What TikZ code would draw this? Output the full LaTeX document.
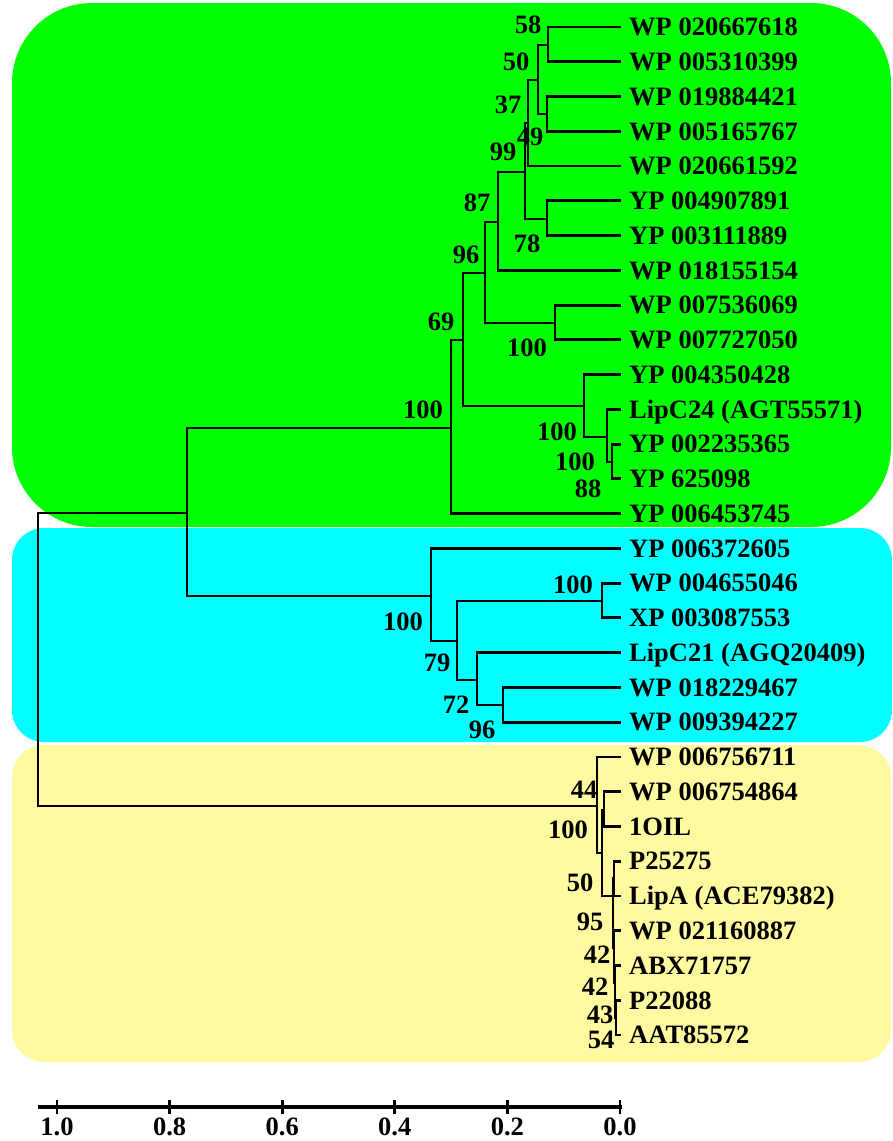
\documentclass[tikz,border=0pt]{standalone}
\usepackage{fontspec}
\setmainfont{Liberation Serif}
\newcommand\lblfont{\fontsize{26.5}{30}\selectfont\bfseries}
\definecolor{cgreen}{RGB}{0,255,0}
\definecolor{ccyan}{RGB}{0,255,255}
\definecolor{cyellow}{RGB}{255,250,160}
\tikzset{
  br/.style={line width=2.9pt},
  leaf/.style={anchor=west, inner sep=0pt, text height=17.5pt, text depth=0pt, font=\lblfont},
  bs/.style={inner sep=0pt, text height=17.5pt, text depth=0pt, font=\lblfont},
  box/.style={rounded corners=#1},
}
\begin{document}
\begin{tikzpicture}[x=1pt,y=-1pt]
\useasboundingbox (0,0) rectangle (892,1141);
% clade backgrounds
\fill[cgreen, box=80pt] (12,3) rectangle (891,527);
\fill[ccyan, box=32pt] (12,528) rectangle (892,742);
\fill[cyellow, box=32pt] (12,745) rectangle (891,1062);

% leaf tips
\coordinate (l1) at (621,27.0);
\coordinate (l2) at (621,61.8);
\coordinate (l3) at (621,96.5);
\coordinate (l4) at (621,131.3);
\coordinate (l5) at (621,166.0);
\coordinate (l6) at (621,200.8);
\coordinate (l7) at (621,235.6);
\coordinate (l8) at (621,270.3);
\coordinate (l9) at (621,305.1);
\coordinate (l10) at (621,339.8);
\coordinate (l11) at (621,374.6);
\coordinate (l12) at (621,409.4);
\coordinate (l13) at (621,444.1);
\coordinate (l14) at (621,478.9);
\coordinate (l15) at (621,513.6);
\coordinate (l16) at (621,548.4);
\coordinate (l17) at (621,583.2);
\coordinate (l18) at (621,617.9);
\coordinate (l19) at (621,652.7);
\coordinate (l20) at (621,687.4);
\coordinate (l21) at (621,722.2);
\coordinate (l22) at (621,757.0);
\coordinate (l23) at (621,791.7);
\coordinate (l24) at (621,826.5);
\coordinate (l25) at (621,861.2);
\coordinate (l26) at (621,896.0);
\coordinate (l27) at (621,930.8);
\coordinate (l28) at (621,965.5);
\coordinate (l29) at (621,1000.3);
\coordinate (l30) at (621,1035.0);

% leaf labels
\node[leaf] (t1) at (629,27.0) {WP 020667618};
\node[leaf] (t2) at (629,61.8) {WP 005310399};
\node[leaf] (t3) at (629,96.5) {WP 019884421};
\node[leaf] (t4) at (629,131.3) {WP 005165767};
\node[leaf] (t5) at (629,166.0) {WP 020661592};
\node[leaf] (t6) at (629,200.8) {YP 004907891};
\node[leaf] (t7) at (629,235.6) {YP 003111889};
\node[leaf] (t8) at (629,270.3) {WP 018155154};
\node[leaf] (t9) at (629,305.1) {WP 007536069};
\node[leaf] (t10) at (629,339.8) {WP 007727050};
\node[leaf] (t11) at (629,374.6) {YP 004350428};
\node[leaf] (t12) at (629,409.4) {LipC24 (AGT55571)};
\node[leaf] (t13) at (629,444.1) {YP 002235365};
\node[leaf] (t14) at (629,478.9) {YP 625098};
\node[leaf] (t15) at (629,513.6) {YP 006453745};
\node[leaf] (t16) at (629,548.4) {YP 006372605};
\node[leaf] (t17) at (629,583.2) {WP 004655046};
\node[leaf] (t18) at (629,617.9) {XP 003087553};
\node[leaf] (t19) at (629,652.7) {LipC21 (AGQ20409)};
\node[leaf] (t20) at (629,687.4) {WP 018229467};
\node[leaf] (t21) at (629,722.2) {WP 009394227};
\node[leaf] (t22) at (629,757.0) {WP 006756711};
\node[leaf] (t23) at (629,791.7) {WP 006754864};
\node[leaf] (t24) at (629,826.5) {1OIL};
\node[leaf] (t25) at (629,861.2) {P25275};
\node[leaf] (t26) at (629,896.0) {LipA (ACE79382)};
\node[leaf] (t27) at (629,930.8) {WP 021160887};
\node[leaf] (t28) at (629,965.5) {ABX71757};
\node[leaf] (t29) at (629,1000.3) {P22088};
\node[leaf] (t30) at (629,1035.0) {AAT85572};

% internal nodes
\coordinate (R0) at (38,660);
\coordinate (P) at (187,513);
\coordinate (A) at (451,428);
\coordinate (B) at (463,340);
\coordinate (C) at (485,273);
\coordinate (E) at (498,222);
\coordinate (G) at (525,172);
\coordinate (N78) at (547,219);
\coordinate (I) at (528,123);
\coordinate (J) at (538,80);
\coordinate (N58) at (548,45);
\coordinate (NK) at (547,114);
\coordinate (F) at (555,323);
\coordinate (D) at (584,406);
\coordinate (D2) at (607,437);
\coordinate (D3) at (612,462);
\coordinate (Q) at (431,596);
\coordinate (R) at (457,641);
\coordinate (S) at (602,601);
\coordinate (T) at (477,680);
\coordinate (U) at (503,705);
\coordinate (Y0) at (597,806);
\coordinate (Y1) at (602,853);
\coordinate (Y2) at (604,810);
\coordinate (Y3) at (613,896);
\coordinate (Y4) at (614,878);
\coordinate (Y5) at (614,948);
\coordinate (Y6) at (615,983);
\coordinate (Y7) at (616,1018);

% branches
\draw[br] (P) -| (R0) |- (Y0);
\draw[br] (A) -| (P) |- (Q);
\draw[br] (B) -| (A) |- (l15);
\draw[br] (C) -| (B) |- (D);
\draw[br] (E) -| (C) |- (F);
\draw[br] (G) -| (E) |- (l8);
\draw[br] (I) -| (G) |- (N78);
\draw[br] (l6) -| (N78) |- (l7);
\draw[br] (J) -| (I) |- (l5);
\draw[br] (N58) -| (J) |- (NK);
\draw[br] (l1) -| (N58) |- (l2);
\draw[br] (l3) -| (NK) |- (l4);
\draw[br] (l9) -| (F) |- (l10);
\draw[br] (l11) -| (D) |- (D2);
\draw[br] (l12) -| (D2) |- (D3);
\draw[br] (l13) -| (D3) |- (l14);
\draw[br] (l16) -| (Q) |- (R);
\draw[br] (S) -| (R) |- (T);
\draw[br] (l17) -| (S) |- (l18);
\draw[br] (l19) -| (T) |- (U);
\draw[br] (l20) -| (U) |- (l21);
\draw[br] (l22) -| (Y0) |- (Y1);
\draw[br] (Y2) -| (Y1) |- (Y3);
\draw[br] (l23) -| (Y2) |- (l24);
\draw[br] (Y4) -| (Y3) |- (Y5);
\draw[br] (l25) -| (Y4) |- (l26);
\draw[br] (l27) -| (Y5) |- (Y6);
\draw[br] (l28) -| (Y6) |- (Y7);
\draw[br] (l29) -| (Y7) |- (l30);

% bootstrap values
\node[bs] (bN58) at (528,25) {58};
\node[bs] (bJ) at (516,62) {50};
\node[bs] (bI) at (508,105) {37};
\node[bs] (bNK) at (530,137) {49};
\node[bs] (bG) at (503,152) {99};
\node[bs] (bE) at (477,203) {87};
\node[bs] (bN78) at (527,244) {78};
\node[bs] (bC) at (466,255) {96};
\node[bs] (bB) at (441,322) {69};
\node[bs] (bF) at (527,348) {100};
\node[bs] (bA) at (423,410) {100};
\node[bs] (bD) at (557,432) {100};
\node[bs] (bD2) at (575,462) {100};
\node[bs] (bD3) at (588,489) {88};
\node[bs] (bS) at (573,585) {100};
\node[bs] (bQ) at (403,622) {100};
\node[bs] (bR) at (437,663) {79};
\node[bs] (bT) at (456,705) {72};
\node[bs] (bU) at (482,730) {96};
\node[bs] (bY2) at (584,790) {44};
\node[bs] (bY0) at (568,830) {100};
\node[bs] (bY4) at (580,883) {50};
\node[bs] (bY3) at (590,922) {95};
\node[bs] (bY5) at (597,955) {42};
\node[bs] (bY6) at (595,987) {42};
\node[bs] (bY7a) at (600,1015) {43};
\node[bs] (bY7) at (601,1040) {54};

% scale bar
\coordinate (sbL) at (38,1107);
\coordinate (sbR) at (622,1107);
\draw[line width=3.2pt] (sbL) -- (sbR);
\foreach \xx/\lab [count=\k] in {57/1.0,169.6/0.8,282.2/0.6,394.8/0.4,507.4/0.2,620/0.0}{
  \coordinate (tk\k) at (\xx,1107);
  \draw[br] ([yshift=7pt]tk\k) -- ([yshift=-7pt]tk\k);
  \node[bs] (sl\k) at (\xx,1127) {\lab};
}
\end{tikzpicture}
\end{document}
